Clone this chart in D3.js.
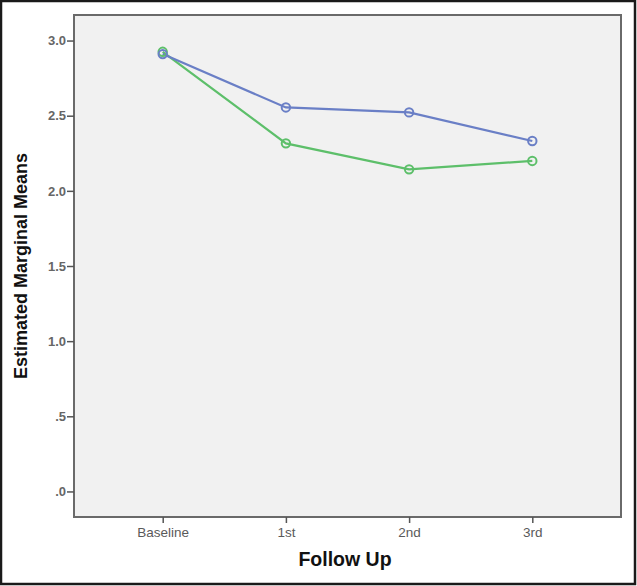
<!DOCTYPE html>
<html><head><meta charset="utf-8">
<script src="https://cdn.jsdelivr.net/npm/d3@7"></script>
<style>
html,body{margin:0;padding:0;background:#fff;}
svg{display:block;}
text{font-family:"Liberation Sans",Arial,sans-serif;}
</style></head>
<body>
<svg id="chart" width="637" height="586"></svg>
<script>
const categories = ["Baseline", "1st", "2nd", "3rd"];
const seriesBlue = [2.91, 2.555, 2.522, 2.332];
const seriesGreen = [2.925, 2.316, 2.143, 2.199];
const yTicks = [0, 0.5, 1.0, 1.5, 2.0, 2.5, 3.0];
const yTickLabels = [".0", ".5", "1.0", "1.5", "2.0", "2.5", "3.0"];

(function () {
const svg = d3.select("#chart");
const W = 637, H = 586;
const pL = 74, pR = 621, pT = 15, pB = 517;

// outer frame
svg.append("rect").attr("x", 1).attr("y", 1).attr("width", W - 3).attr("height", H - 3)
  .attr("fill", "#fff").attr("stroke", "#1a1a1a").attr("stroke-width", 2.5);

const x = d3.scalePoint().domain(categories).range([pL, pR]).padding(0.72);
const y = d3.scaleLinear().domain([-0.17, 3.17]).range([pB, pT]);

// plot background
svg.append("rect").attr("x", pL).attr("y", pT).attr("width", pR - pL).attr("height", pB - pT)
  .attr("fill", "#f1f1f1").attr("stroke", "#6a6a6a").attr("stroke-width", 2);

// y axis
const yAxis = d3.axisLeft(y).tickValues(yTicks).tickSize(7).tickPadding(1)
  .tickFormat((d, i) => yTickLabels[i]);
const gy = svg.append("g").attr("transform", `translate(${pL},0)`).call(yAxis);
gy.select(".domain").remove();
gy.selectAll(".tick line").attr("stroke", "#555").attr("stroke-width", 1.5);
gy.selectAll(".tick text").attr("fill", "#666").attr("font-size", 13).attr("font-weight", "bold");

// x axis
const xAxis = d3.axisBottom(x).tickSize(6).tickPadding(4);
const gx = svg.append("g").attr("transform", `translate(0,${pB})`).call(xAxis);
gx.select(".domain").remove();
gx.selectAll(".tick line").attr("stroke", "#555").attr("stroke-width", 1.5);
gx.selectAll(".tick text").attr("fill", "#5a5a5a").attr("font-size", 13.5);

// axis titles
svg.append("text").attr("transform", `translate(27,${(pT + pB) / 2}) rotate(-90)`)
  .attr("text-anchor", "middle").attr("font-size", 18).attr("font-weight", "bold").attr("fill", "#111")
  .text("Estimated Marginal Means");
svg.append("text").attr("x", 345).attr("y", 566)
  .attr("text-anchor", "middle").attr("font-size", 19.5).attr("font-weight", "bold").attr("fill", "#111")
  .text("Follow Up");

const line = d3.line().x((d, i) => x(categories[i])).y(d => y(d));
const series = [
  {values: seriesGreen, color: "#5dbf6a"},
  {values: seriesBlue, color: "#6a7fc6"}
];
series.forEach(s => {
  svg.append("path").datum(s.values).attr("d", line).attr("fill", "none")
    .attr("stroke", s.color).attr("stroke-width", 2.2);
});
series.forEach(s => {
  svg.selectAll(null).data(s.values).enter().append("circle")
    .attr("cx", (d, i) => x(categories[i])).attr("cy", d => y(d)).attr("r", 4.2)
    .attr("fill", "none").attr("stroke", s.color).attr("stroke-width", 2);
});
})();
</script>
</body></html>
